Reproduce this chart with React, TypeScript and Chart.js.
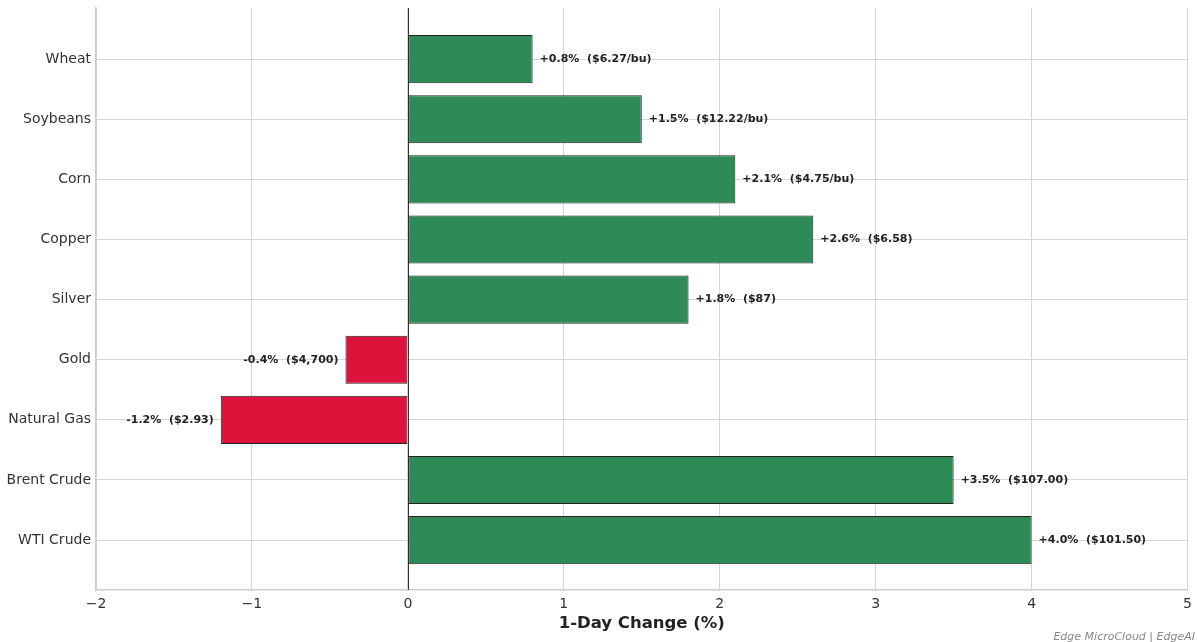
import React, { useEffect, useRef } from "react";
import { Chart, registerables } from "chart.js";

Chart.register(...registerables);

const categories = ["WTI Crude", "Brent Crude", "Natural Gas", "Gold", "Silver", "Copper", "Corn", "Soybeans", "Wheat"];
const changes = [4.0, 3.5, -1.2, -0.4, 1.8, 2.6, 2.1, 1.5, 0.8];
const prices = ["$101.50", "$107.00", "$2.93", "$4,700", "$87", "$6.58", "$4.75/bu", "$12.22/bu", "$6.27/bu"];
const xTicks = [-2, -1, 0, 1, 2, 3, 4, 5];

const GREEN = "#2e8b57";
const RED = "#dc143c";
const FONT = "'DejaVu Sans', sans-serif";

export default function App() {
  const ref = useRef<HTMLCanvasElement | null>(null);

  useEffect(() => {
    const canvas = ref.current;
    if (!canvas) return;

    const labelPlugin = {
      id: "barLabels",
      beforeDatasetsDraw(chart: any) {
        const { ctx, chartArea, scales } = chart;
        const x0 = scales.x.getPixelForValue(0);
        ctx.save();
        ctx.strokeStyle = "#333333";
        ctx.lineWidth = 1;
        ctx.beginPath();
        ctx.moveTo(Math.round(x0) + 0.5, chartArea.top);
        ctx.lineTo(Math.round(x0) + 0.5, chartArea.bottom);
        ctx.stroke();
        ctx.restore();
      },
      afterDatasetsDraw(chart: any) {
        const { ctx } = chart;
        const meta = chart.getDatasetMeta(0);
        ctx.save();
        ctx.font = `bold 11px ${FONT}`;
        ctx.fillStyle = "#222222";
        ctx.textBaseline = "middle";
        meta.data.forEach((bar: any, i: number) => {
          const v = changes[i];
          const sign = v >= 0 ? "+" : "-";
          const text = `${sign}${Math.abs(v).toFixed(1)}%  (${prices[i]})`;
          if (v >= 0) {
            ctx.textAlign = "left";
            ctx.fillText(text, bar.x + 7, bar.y);
          } else {
            ctx.textAlign = "right";
            ctx.fillText(text, bar.x - 7, bar.y);
          }
        });
        ctx.restore();
      },
      afterDraw(chart: any) {
        const { ctx, chartArea } = chart;
        ctx.save();
        ctx.fillStyle = "#222222";
        ctx.font = `bold 16.5px ${FONT}`;
        ctx.textAlign = "center";
        ctx.textBaseline = "middle";
        ctx.fillText("1-Day Change (%)", (chartArea.left + chartArea.right) / 2, 624);
        ctx.fillStyle = "#888888";
        ctx.font = `italic 11px ${FONT}`;
        ctx.textAlign = "right";
        ctx.textBaseline = "alphabetic";
        ctx.fillText("Edge MicroCloud | EdgeAI", 1195, 640);
        ctx.restore();
      },
    };

    const chart = new Chart(canvas, {
      type: "bar",
      data: {
        datasets: [
          {
            data: changes.map((v, i) => ({ x: v, y: i })),
            backgroundColor: changes.map((v) => (v >= 0 ? GREEN : RED)),
            borderColor: "#222222",
            borderWidth: 1,
            borderSkipped: false,
            barPercentage: 0.8,
            categoryPercentage: 1.0,
          },
        ],
      },
      options: {
        indexAxis: "y",
        responsive: false,
        animation: false,
        devicePixelRatio: 1,
        layout: { padding: { top: 8, right: 10, left: 0, bottom: 0 } },
        plugins: { legend: { display: false }, tooltip: { enabled: false } },
        scales: {
          x: {
            type: "linear",
            min: -2,
            max: 5,
            offset: false,
            afterBuildTicks: (scale: any) => {
              scale.ticks = xTicks.map((v) => ({ value: v }));
            },
            afterFit: (scale: any) => {
              scale.height = 52;
            },
            ticks: {
              color: "#333333",
              font: { family: FONT, size: 14 },
              padding: 6,
              maxRotation: 0,
              callback: (v: any) => (Number(v) < 0 ? "\u2212" + Math.abs(Number(v)) : String(v)),
            },
            grid: { color: "#d6d6d6", lineWidth: 1, drawTicks: false, offset: false },
            border: { display: true, color: "#cccccc", width: 1.5 },
          },
          y: {
            type: "linear",
            min: -0.83,
            max: 8.85,
            offset: false,
            afterBuildTicks: (scale: any) => {
              scale.ticks = categories.map((_, i) => ({ value: i }));
            },
            afterFit: (scale: any) => {
              scale.width = 96;
              scale.paddingTop = 0;
              scale.paddingBottom = 0;
            },
            ticks: {
              color: "#333333",
              font: { family: FONT, size: 14 },
              padding: 5,
              callback: (v: any) => categories[Number(v)] ?? "",
            },
            grid: { color: "#d6d6d6", lineWidth: 1, drawTicks: false, offset: false },
            border: { display: true, color: "#cccccc", width: 1.5 },
          },
        },
      },
      plugins: [labelPlugin],
    } as any);

    return () => chart.destroy();
  }, []);

  return (
    <canvas
      ref={ref}
      width={1198}
      height={642}
      style={{ position: "fixed", left: 0, top: 0, width: 1198, height: 642 }}
    />
  );
}
